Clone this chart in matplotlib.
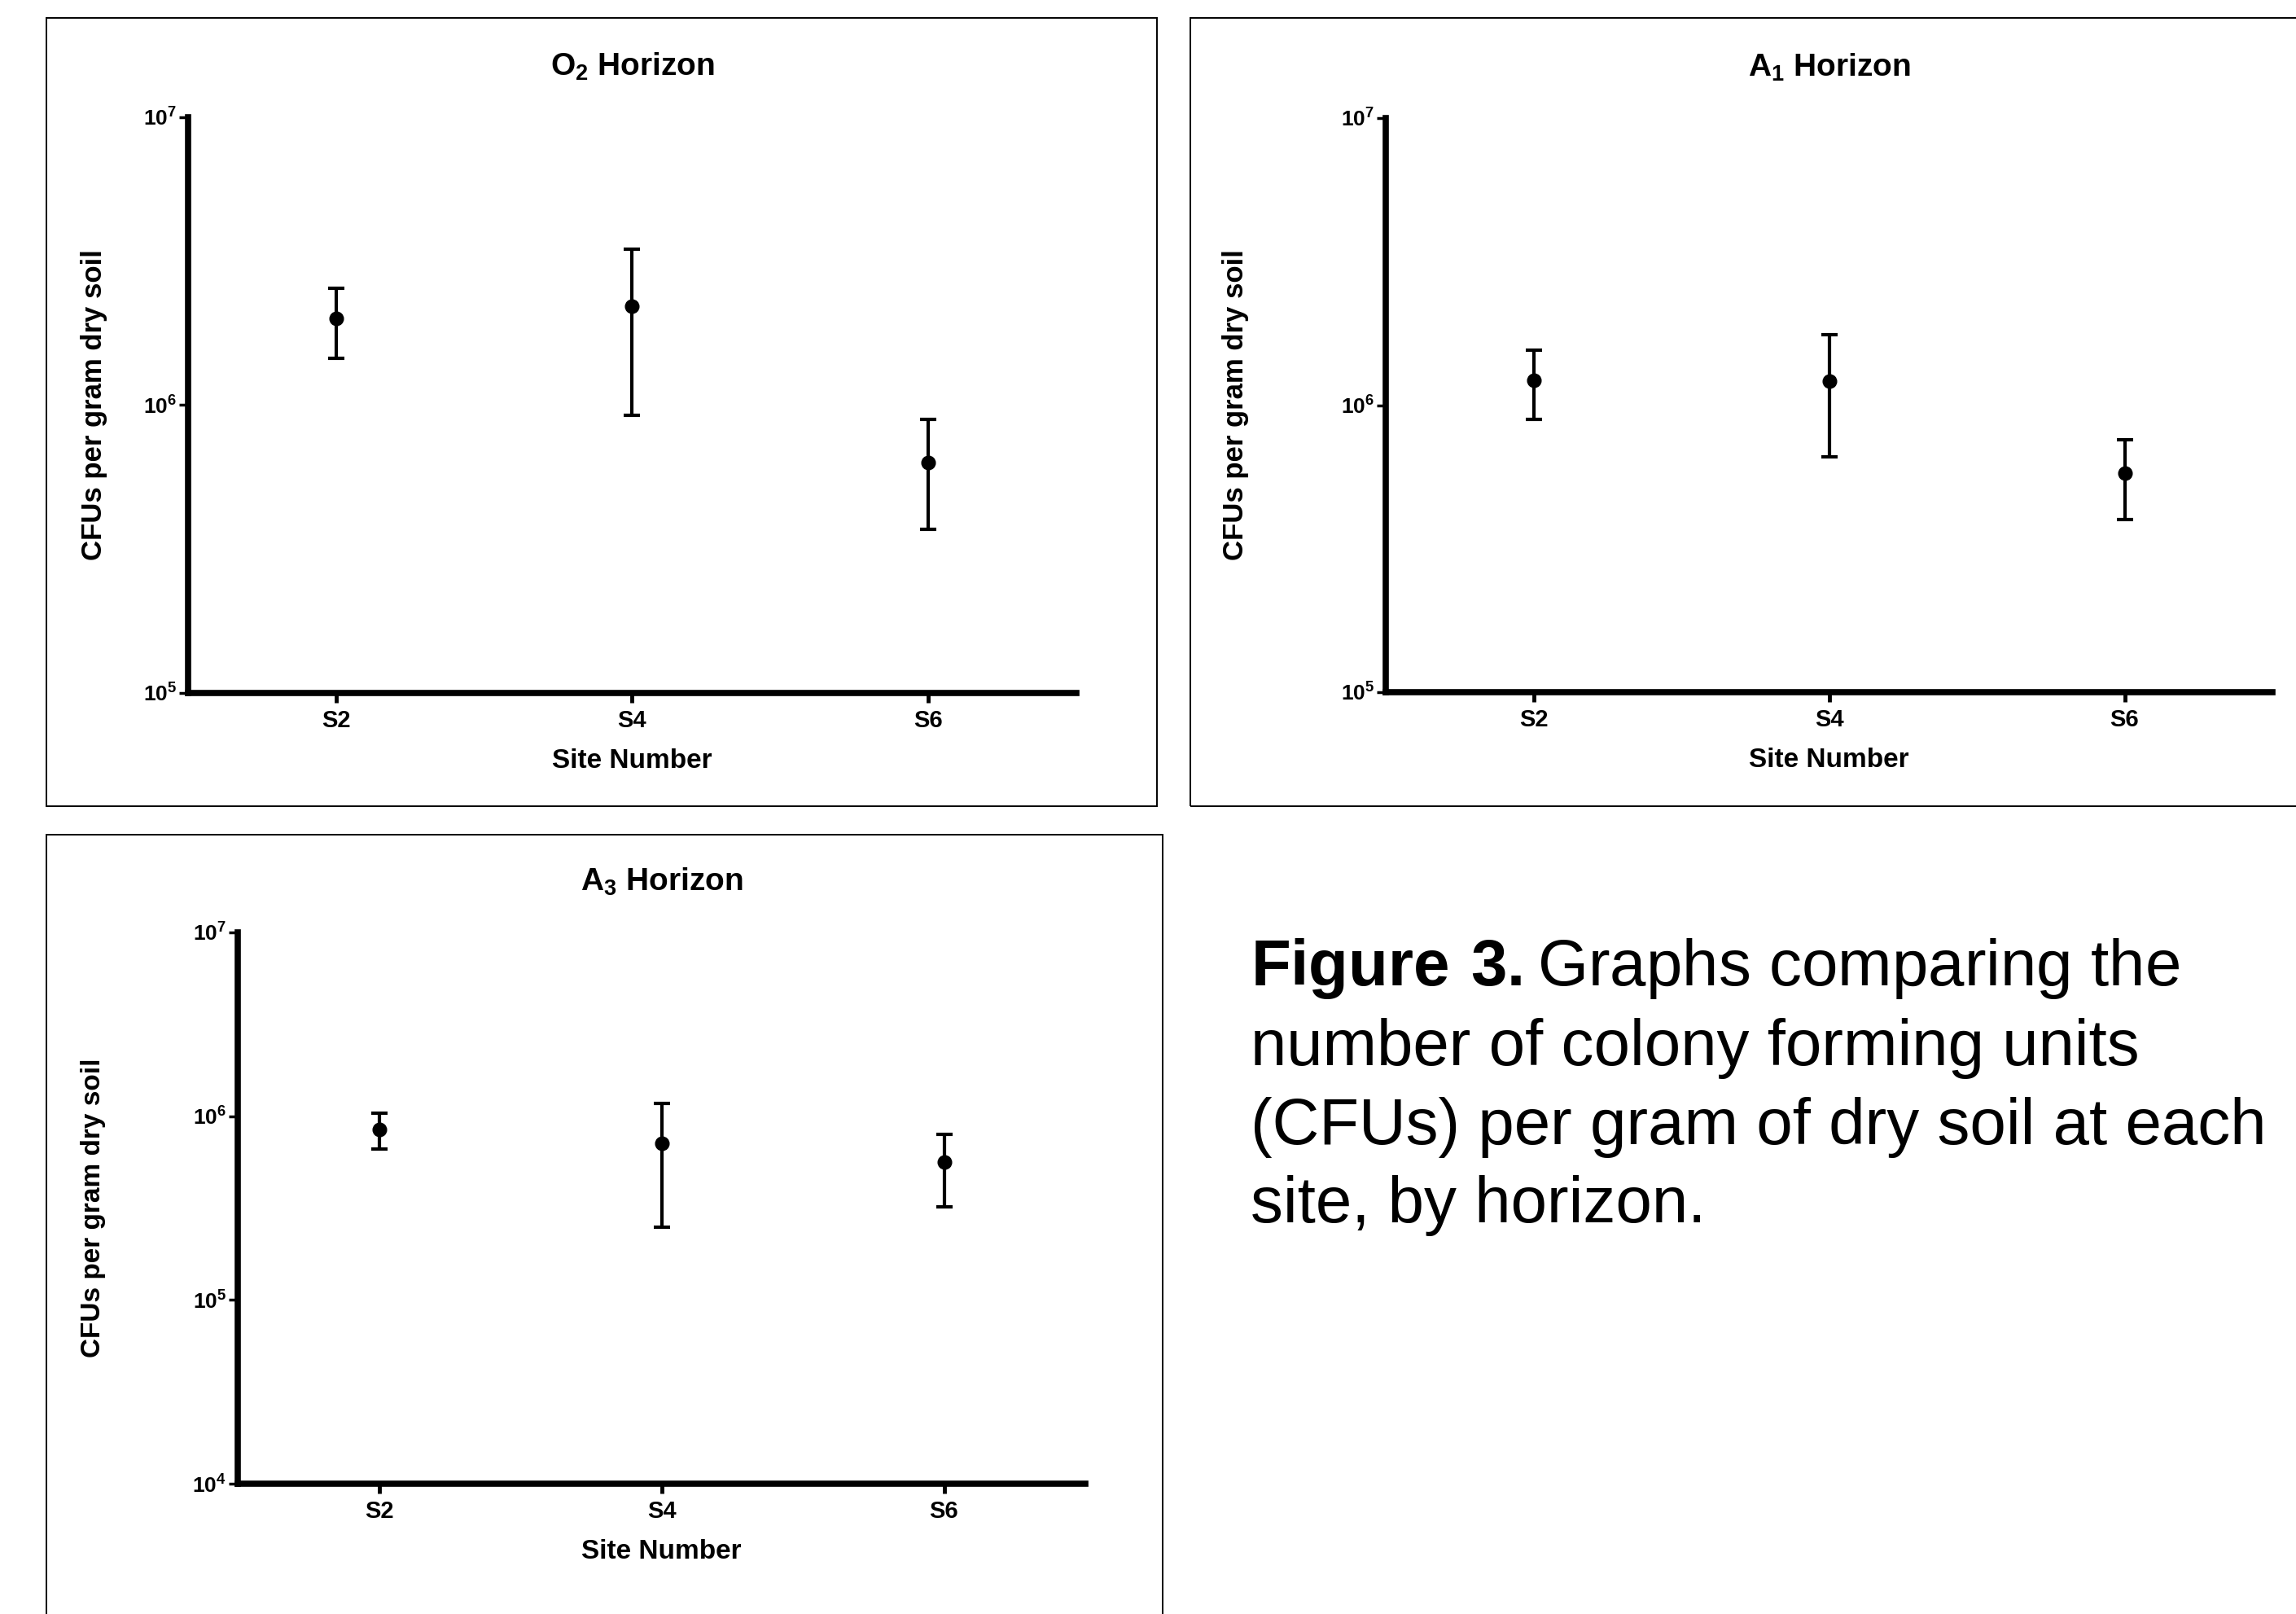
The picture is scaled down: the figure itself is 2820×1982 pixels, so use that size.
import numpy as np
import matplotlib
matplotlib.use('Agg')
import matplotlib.pyplot as plt
from matplotlib.patches import Rectangle
from matplotlib.ticker import NullLocator

plt.rcParams['font.family'] = ['Liberation Sans', 'DejaVu Sans']
plt.rcParams['mathtext.fontset'] = 'custom'
plt.rcParams['mathtext.rm'] = 'Liberation Sans'
plt.rcParams['mathtext.bf'] = 'Liberation Sans:bold'

# data (mean +/- sd, CFUs per gram dry soil)
sites = ['S2', 'S4', 'S6']
o2_mean = [2.0e6, 2.2e6, 6.3e5]
o2_sd = [5.5e5, 1.28e6, 2.6e5]
a1_mean = [1.22e6, 1.21e6, 5.8e5]
a1_sd = [3.3e5, 5.5e5, 1.8e5]
a3_mean = [8.5e5, 7.1e5, 5.6e5]
a3_sd = [1.9e5, 4.6e5, 2.4e5]

titles = [r'O$_\mathdefault{2}$ Horizon', r'A$_\mathdefault{1}$ Horizon', r'A$_\mathdefault{3}$ Horizon']
caption = ("$\\mathbf{Figure\\ 3.}$Graphs comparing the\n"
           "number of colony forming units\n"
           "(CFUs) per gram of dry soil at each\n"
           "site, by horizon.")

W, H = 2820, 1982
fig = plt.figure(figsize=(W / 100, H / 100), dpi=100)


def box(x0, y0, x1, y1):
    # frame drawn around each panel, in pixel coords of the figure
    r = Rectangle((x0 / W, 1 - y1 / H), (x1 - x0) / W, (y1 - y0) / H,
                  transform=fig.transFigure, fill=False, ec='black', lw=1.4, clip_on=False)
    fig.patches.append(r)


def panel(l, r, t, b, mean, sd, title, ymin, ylab_off, ylab_size):
    ax = fig.add_axes([l / W, 1 - b / H, (r - l) / W, (b - t) / H])
    hpx = b - t
    wpx = r - l
    x = np.arange(len(sites))
    ax.errorbar(x, mean, yerr=sd, fmt='o', color='black', ms=12,
                elinewidth=3, capsize=7.5, capthick=3)
    ax.set_yscale('log')
    ax.set_ylim(ymin, 1e7)
    ax.set_xlim(-0.5, 2.5)
    exps = np.arange(int(round(np.log10(ymin))), 8)
    ax.set_yticks(10.0 ** exps, [r'$\mathdefault{10^{%d}}$' % e for e in exps],
                  fontweight='bold')
    ax.yaxis.set_minor_locator(NullLocator())
    ax.set_xticks(x, sites, fontweight='bold')
    ax.tick_params(axis='y', length=8, width=2.5, pad=2, labelsize=19)
    ax.tick_params(axis='x', length=8.5, width=3.5, pad=6, labelsize=21)
    for s in ['top', 'right']:
        ax.spines[s].set_visible(False)
    for s in ['left', 'bottom']:
        ax.spines[s].set_linewidth(5.5)
    ax.text(0.5, 1 + 51 / hpx, title, transform=ax.transAxes, ha='center',
            va='baseline', fontsize=28, fontweight='bold')
    ax.text(0.5, -92 / hpx, 'Site Number', transform=ax.transAxes, ha='center',
            va='baseline', fontsize=24, fontweight='bold')
    ax.text(-ylab_off / wpx, 0.5, 'CFUs per gram dry soil', transform=ax.transAxes,
            rotation=90, ha='center', va='center', fontsize=ylab_size, fontweight='bold')
    return ax


box(57, 22, 1421, 990)
box(1462, 22, 2840, 990)
box(57, 1025, 1428, 2000)

panel(231, 1322, 144, 851, o2_mean, o2_sd, titles[0], 1e5, 116, 25)
panel(1702, 2791, 145, 850, a1_mean, a1_sd, titles[1], 1e5, 185, 25)
panel(292, 1333, 1145, 1822, a3_mean, a3_sd, titles[2], 1e4, 177, 24)

fig.text(1536 / W, 1 - 1150 / H, caption, fontsize=57.5, ha='left', va='top',
         linespacing=1.37)

fig.savefig('out.png', dpi=100, facecolor='white')
